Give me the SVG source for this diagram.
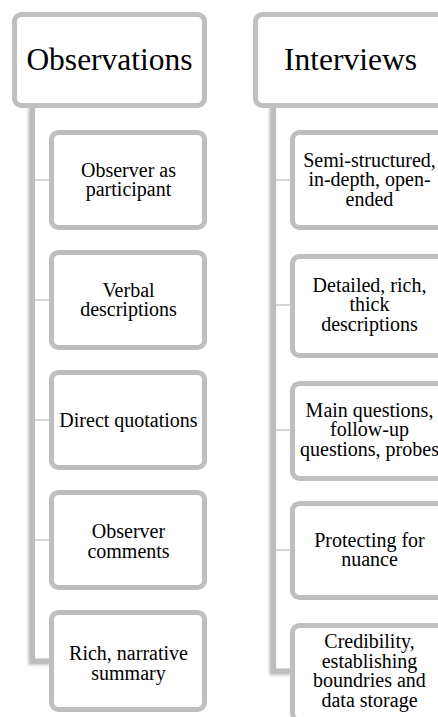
<svg xmlns="http://www.w3.org/2000/svg" width="438" height="717" viewBox="0 0 438 717">
<style>
.box{fill:#fff;stroke:#bfbfbf;stroke-width:5}
.hdr{font-family:"Liberation Serif","Times New Roman",serif;font-size:31.5px;fill:#000;text-anchor:middle}
.t{font-family:"Liberation Serif","Times New Roman",serif;font-size:20px;fill:#000;text-anchor:middle}
.bar{fill:none;stroke:#bdbdbd;stroke-width:5;stroke-linejoin:miter}
.thin{stroke:#bfbfbf;stroke-width:1.3}
</style>
<defs>
<filter id="sh" x="-50%" y="-10%" width="200%" height="120%">
<feDropShadow dx="-1.5" dy="1.5" stdDeviation="1.5" flood-color="#888" flood-opacity="0.6"/>
</filter>
</defs>
<rect width="438" height="717" fill="#fff"/>
<g id="connectors">
<path class="bar" filter="url(#sh)" d="M32.5 106 V661 H51"/>
<line class="thin" x1="35" y1="180" x2="51" y2="180"/>
<line class="thin" x1="35" y1="300" x2="51" y2="300"/>
<line class="thin" x1="35" y1="420" x2="51" y2="420"/>
<line class="thin" x1="35" y1="540" x2="51" y2="540"/>
<path class="bar" filter="url(#sh)" d="M273.5 106 V671 H292"/>
<line class="thin" x1="276" y1="180" x2="292" y2="180"/>
<line class="thin" x1="276" y1="305" x2="292" y2="305"/>
<line class="thin" x1="276" y1="430" x2="292" y2="430"/>
<line class="thin" x1="276" y1="550" x2="292" y2="550"/>
</g>
<g id="observations">
<rect class="box" x="14.5" y="14.5" width="190" height="91" rx="7"/>
<text class="hdr" x="109.5" y="70">Observations</text>
</g>
<g id="obs1">
<rect class="box" x="51.5" y="132.5" width="153" height="95" rx="7"/>
<text class="t" x="128.5" y="176.5">Observer as</text>
<text class="t" x="128.5" y="196">participant</text>
</g>
<g id="obs2">
<rect class="box" x="51.5" y="252.5" width="153" height="95" rx="7"/>
<text class="t" x="128.5" y="296.5">Verbal</text>
<text class="t" x="128.5" y="316">descriptions</text>
</g>
<g id="obs3">
<rect class="box" x="51.5" y="372.5" width="153" height="95" rx="7"/>
<text class="t" x="128.5" y="426.5">Direct quotations</text>
</g>
<g id="obs4">
<rect class="box" x="51.5" y="492.5" width="153" height="95" rx="7"/>
<text class="t" x="128.5" y="538">Observer</text>
<text class="t" x="128.5" y="557.5">comments</text>
</g>
<g id="obs5">
<rect class="box" x="51.5" y="612.5" width="153" height="97" rx="7"/>
<text class="t" x="128.5" y="660">Rich, narrative</text>
<text class="t" x="128.5" y="679.5">summary</text>
</g>
<g id="interviews">
<rect class="box" x="255.5" y="14.5" width="190" height="91" rx="7"/>
<text class="hdr" x="350.5" y="70">Interviews</text>
</g>
<g id="int1">
<rect class="box" x="292.5" y="132.5" width="153" height="95" rx="7"/>
<text class="t" x="369.5" y="166.5">Semi-structured,</text>
<text class="t" x="369.5" y="186">in-depth, open-</text>
<text class="t" x="369.5" y="205.5">ended</text>
</g>
<g id="int2">
<rect class="box" x="292.5" y="256.5" width="153" height="99" rx="7"/>
<text class="t" x="369.5" y="291.5">Detailed, rich,</text>
<text class="t" x="369.5" y="311">thick</text>
<text class="t" x="369.5" y="330.5">descriptions</text>
</g>
<g id="int3">
<rect class="box" x="292.5" y="383.5" width="153" height="95" rx="7"/>
<text class="t" x="369.5" y="416.5">Main questions,</text>
<text class="t" x="369.5" y="436">follow-up</text>
<text class="t" x="369.5" y="455.5">questions, probes</text>
</g>
<g id="int4">
<rect class="box" x="292.5" y="503.5" width="153" height="94" rx="7"/>
<text class="t" x="369.5" y="546.5">Protecting for</text>
<text class="t" x="369.5" y="566">nuance</text>
</g>
<g id="int5">
<rect class="box" x="292.5" y="625.5" width="153" height="95" rx="7"/>
<text class="t" x="369.5" y="648">Credibility,</text>
<text class="t" x="369.5" y="667.5">establishing</text>
<text class="t" x="369.5" y="687">boundries and</text>
<text class="t" x="369.5" y="706.5">data storage</text>
</g>
</svg>
